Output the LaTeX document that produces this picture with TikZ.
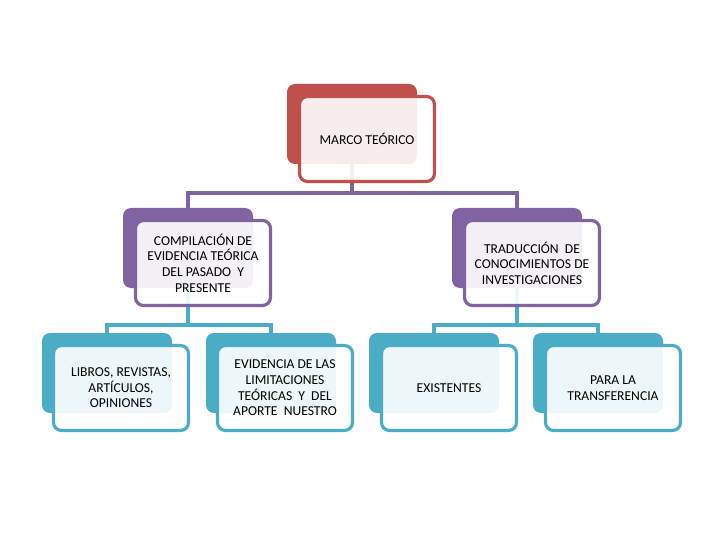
\documentclass[tikz,border=0pt]{standalone}
\usepackage{fontspec}
\setmainfont{Carlito}
\definecolor{cred}{HTML}{C0504D}
\definecolor{cpur}{HTML}{8064A2}
\definecolor{cteal}{HTML}{4BACC6}
\begin{document}
\begin{tikzpicture}[x=1pt,y=-1pt,
  backbox/.style={draw=none,fill=#1,rounded corners=8pt,minimum width=130pt,minimum height=80pt,inner sep=0pt},
  frontbox/.style={draw=#1,line width=3.2pt,fill=white,fill opacity=0.9,text opacity=1,rounded corners=8pt,minimum width=135pt,minimum height=85pt,inner sep=0pt,align=center,font=\fontsize{13.6}{15.6}\selectfont},
  conn/.style={draw=#1,line width=3.2pt}]
\useasboundingbox (0,0) rectangle (720,540);
% back boxes
\node[backbox=cred] (b0) at (352,124) {};
\node[backbox=cpur] (b1) at (188,248) {};
\node[backbox=cpur] (b2) at (517,248) {};
\node[backbox=cteal] (b3) at (107,373) {};
\node[backbox=cteal] (b4) at (271,373) {};
\node[backbox=cteal] (b5) at (434,373) {};
\node[backbox=cteal] (b6) at (598,373) {};
% connectors
\coordinate (j0) at (352,193);
\coordinate (j1) at (188,325);
\coordinate (j2) at (517,325);
\draw[conn=cpur] (b0.south) -- (j0) -| (b1.north);
\draw[conn=cpur] (j0) -| (b2.north);
\draw[conn=cteal] (b1.south) -- (j1) -| (b3.north);
\draw[conn=cteal] (j1) -| (b4.north);
\draw[conn=cteal] (b2.south) -- (j2) -| (b5.north);
\draw[conn=cteal] (j2) -| (b6.north);
% front boxes
\node[frontbox=cred] (f0) at (367,139) {MARCO TEÓRICO};
\node[frontbox=cpur] (f1) at (203,263) {COMPILACIÓN DE\\EVIDENCIA TEÓRICA\\DEL PASADO~ Y\\PRESENTE};
\node[frontbox=cpur] (f2) at (532,263) {TRADUCCIÓN~ DE\\CONOCIMIENTOS DE\\INVESTIGACIONES};
\node[frontbox=cteal] (f3) at (121,388) {LIBROS, REVISTAS,\\ARTÍCULOS,\\OPINIONES};
\node[frontbox=cteal] (f4) at (285,388) {EVIDENCIA DE LAS\\LIMITACIONES\\TEÓRICAS~ Y~ DEL\\APORTE~ NUESTRO};
\node[frontbox=cteal] (f5) at (449,388) {EXISTENTES};
\node[frontbox=cteal] (f6) at (613,388) {PARA LA\\TRANSFERENCIA};
\end{tikzpicture}
\end{document}
